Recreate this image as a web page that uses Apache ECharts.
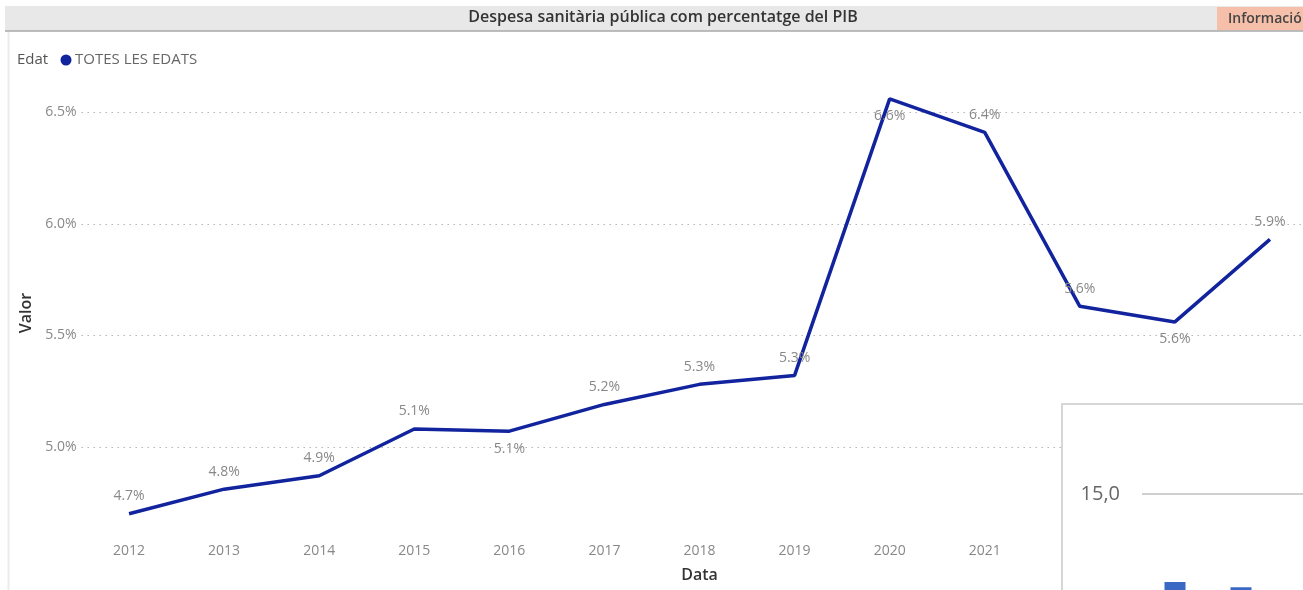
<!DOCTYPE html>
<html>
<head>
<meta charset="utf-8">
<script src="https://cdn.jsdelivr.net/npm/echarts@6/dist/echarts.min.js"></script>
<style>
  html, body { margin: 0; padding: 0; background: #fff; overflow: hidden; }
  /* més gran que la finestra: el gràfic original queda retallat per la dreta i per sota */
  #main { width: 1340px; height: 700px; }
</style>
</head>
<body>
<div id="main"></div>
<script>
// dades
const years = ['2012', '2013', '2014', '2015', '2016', '2017', '2018', '2019', '2020', '2021', '2022', '2023', '2024']
const values = [4.70, 4.81, 4.87, 5.08, 5.07, 5.19, 5.28, 5.32, 6.56, 6.41, 5.63, 5.56, 5.93]
// etiquetes que van a sota del punt
const labelsBelow = ['2016', '2020', '2023']
// panell superposat (cantonada inferior dreta)
const panelCats = ['A', 'B', 'C']
const panelValues = [8.4, 8.0, null]

const font = '"Open Sans", "Noto Sans", sans-serif'
const chart = echarts.init(document.getElementById('main'))

const lineData = values.map((v, i) => ({
  value: v,
  label: { position: labelsBelow.includes(years[i]) ? 'bottom' : 'top' }
}))

const options = {
  animation: false,
  textStyle: { fontFamily: font },
  grid: [
    { left: 81.5, top: 90, width: 1236, height: 446 },
    { left: 1142, top: 494, width: 207, height: 200 }
  ],
  xAxis: [
    {
      type: 'category',
      gridIndex: 0,
      data: years,
      name: 'Data',
      nameLocation: 'middle',
      nameGap: 31,
      nameTextStyle: { color: '#333', fontSize: 16, fontWeight: 600 },
      axisLine: { show: false },
      axisTick: { show: false },
      axisLabel: { color: '#888', fontSize: 14, margin: 8 }
    },
    {
      type: 'category',
      gridIndex: 1,
      data: panelCats,
      show: false
    }
  ],
  yAxis: [
    {
      type: 'value',
      gridIndex: 0,
      min: 4.6,
      max: 6.6,
      splitNumber: 4,
      name: 'Valor',
      nameLocation: 'middle',
      nameGap: 38,
      nameTextStyle: { color: '#333', fontSize: 16, fontWeight: 600 },
      axisLine: { show: false },
      axisTick: { show: false },
      axisLabel: {
        color: '#888',
        fontSize: 14,
        margin: 5,
        showMinLabel: false,
        showMaxLabel: false,
        formatter: v => v.toFixed(1) + '%'
      },
      splitLine: {
        showMinLine: false,
        showMaxLine: false,
        lineStyle: { color: '#b4b4b4', type: [1.5, 4.5], width: 1.2 }
      }
    },
    {
      type: 'value',
      gridIndex: 1,
      min: 0,
      max: 15,
      interval: 15,
      z: 30,
      axisLine: { show: false },
      axisTick: { show: false },
      axisLabel: {
        color: '#666',
        fontSize: 20,
        margin: 22,
        showMinLabel: false,
        formatter: v => v.toFixed(1).replace('.', ',')
      },
      splitLine: {
        showMinLine: false,
        lineStyle: { color: '#d0d0d0', width: 2 }
      }
    }
  ],
  series: [
    {
      type: 'line',
      xAxisIndex: 0,
      yAxisIndex: 0,
      data: lineData,
      symbol: 'circle',
      symbolSize: 1,
      showSymbol: true,
      itemStyle: { color: 'rgba(0,0,0,0)' },
      clip: false,
      lineStyle: { color: '#12239E', width: 3.5 },
      label: {
        show: true,
        color: '#888',
        fontSize: 14,
        distance: 10,
        formatter: p => p.value.toFixed(1) + '%'
      },
      z: 2
    },
    {
      type: 'bar',
      xAxisIndex: 1,
      yAxisIndex: 1,
      data: panelValues,
      barWidth: 21,
      itemStyle: { color: '#3a68c4' },
      z: 30
    }
  ],
  graphic: [
    // barra de títol
    {
      type: 'rect',
      shape: { x: 5, y: 6, width: 1340, height: 25 },
      style: { fill: '#e8e8e8' },
      z: 50
    },
    {
      type: 'line',
      shape: { x1: 5, y1: 31, x2: 1340, y2: 31 },
      style: { stroke: '#a8a8a8', lineWidth: 1.5 },
      z: 51
    },
    {
      type: 'text',
      x: 663, y: 17,
      style: {
        text: 'Despesa sanitària pública com percentatge del PIB',
        fill: '#333', font: '600 16px ' + font,
        textAlign: 'center', textVerticalAlign: 'middle'
      },
      z: 52
    },
    {
      type: 'rect',
      shape: { x: 1217, y: 7, width: 120, height: 23 },
      style: { fill: '#f5bfa9' },
      z: 52
    },
    {
      type: 'text',
      x: 1228, y: 19,
      style: {
        text: 'Informació',
        fill: '#444', font: '600 14px ' + font,
        textVerticalAlign: 'middle'
      },
      z: 53
    },
    // vora esquerra
    {
      type: 'line',
      shape: { x1: 8.5, y1: 32, x2: 8.5, y2: 700 },
      style: { stroke: '#ececec', lineWidth: 2 },
      z: 50
    },
    // llegenda
    {
      type: 'text',
      x: 17, y: 60,
      style: { text: 'Edat', fill: '#555', font: '15px ' + font, textVerticalAlign: 'middle' },
      z: 50
    },
    {
      type: 'circle',
      shape: { cx: 66, cy: 60, r: 5.5 },
      style: { fill: '#12239E' },
      z: 50
    },
    {
      type: 'text',
      x: 75, y: 60,
      style: { text: 'TOTES LES EDATS', fill: '#666', font: '15px ' + font, textVerticalAlign: 'middle' },
      z: 50
    },
    // panell superposat
    {
      type: 'rect',
      shape: { x: 1062, y: 404, width: 300, height: 320 },
      style: { fill: '#fff', stroke: '#d6d6d6', lineWidth: 2 },
      z: 20
    }
  ]
}

chart.setOption(options)
</script>
</body>
</html>
